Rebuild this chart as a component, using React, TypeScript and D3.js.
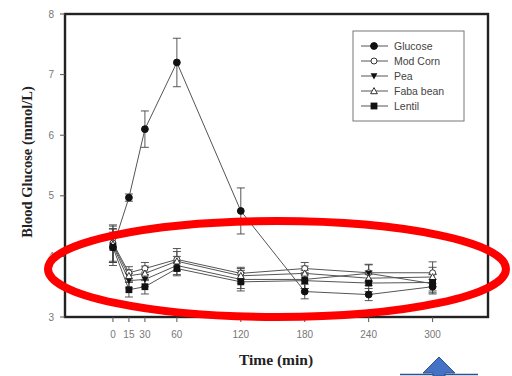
import React from "react";
import * as d3 from "d3";

// Sampling times (min)
const times = [0, 15, 30, 60, 120, 180, 240, 300];
const xTicks = [0, 15, 30, 60, 120, 180, 240, 300];
const yTicks = [3, 4, 5, 6, 7, 8];

// Mean blood glucose (mmol/L) per treatment
const glucose = [4.15, 4.97, 6.1, 7.2, 4.75, 3.42, 3.37, 3.5];
const modCorn = [4.22, 3.73, 3.8, 3.95, 3.72, 3.8, 3.73, 3.73];
const pea = [4.18, 3.6, 3.62, 3.85, 3.62, 3.62, 3.72, 3.55];
const fabaBean = [4.2, 3.68, 3.72, 3.92, 3.68, 3.72, 3.64, 3.66];
const lentil = [4.15, 3.45, 3.5, 3.8, 3.58, 3.6, 3.56, 3.57];

// Standard errors
const glucoseErr = [0.3, 0.06, 0.3, 0.4, 0.38, 0.12, 0.1, 0.12];
const modCornErr = [0.3, 0.1, 0.1, 0.18, 0.1, 0.1, 0.14, 0.18];
const peaErr = [0.28, 0.12, 0.12, 0.15, 0.15, 0.15, 0.14, 0.15];
const fabaBeanErr = [0.3, 0.1, 0.12, 0.16, 0.12, 0.12, 0.12, 0.16];
const lentilErr = [0.25, 0.12, 0.12, 0.12, 0.15, 0.13, 0.14, 0.14];

const seriesNames = ["Glucose", "Mod Corn", "Pea", "Faba bean", "Lentil"];
const seriesValues = [glucose, modCorn, pea, fabaBean, lentil];
const seriesErrs = [glucoseErr, modCornErr, peaErr, fabaBeanErr, lentilErr];
const seriesSymbols = ["circleFilled", "circleOpen", "triDownFilled", "triUpOpen", "squareFilled"];

const W = 512;
const H = 376;

const x = d3.scaleLinear().domain([-45, 352]).range([65, 488]);
const y = d3.scaleLinear().domain([3, 8]).range([317, 14]);

const ink = "#222";
const lineCol = "#555";

function Marker({ kind, cx, cy }: { kind: string; cx: number; cy: number }) {
  const s = 3.4;
  switch (kind) {
    case "circleFilled":
      return <circle cx={cx} cy={cy} r={s} fill="#111" stroke="#111" />;
    case "circleOpen":
      return <circle cx={cx} cy={cy} r={s - 0.4} fill="#fff" stroke="#333" strokeWidth={1} />;
    case "triDownFilled":
      return (
        <path
          d={`M${cx - s},${cy - s * 0.8}L${cx + s},${cy - s * 0.8}L${cx},${cy + s}Z`}
          fill="#111"
        />
      );
    case "triUpOpen":
      return (
        <path
          d={`M${cx - s},${cy + s * 0.8}L${cx + s},${cy + s * 0.8}L${cx},${cy - s}Z`}
          fill="#fff"
          stroke="#333"
          strokeWidth={1}
        />
      );
    default:
      return <rect x={cx - s} y={cy - s} width={s * 2} height={s * 2} fill="#111" />;
  }
}

export default function App() {
  const line = d3
    .line<number>()
    .x((_, i) => x(times[i]))
    .y((d) => y(d));

  const legendX = 353;
  const legendY = 31;
  const legendRow = 15;

  return (
    <svg
      width={W}
      height={H}
      style={{ position: "absolute", left: 0, top: 0, background: "#fff" }}
      fontFamily="Liberation Sans, Arial, sans-serif"
    >
      {/* error bars */}
      {seriesValues.map((vals, si) =>
        vals.map((v, i) => {
          const e = seriesErrs[si][i];
          const cx = x(times[i]);
          return (
            <g key={`e${si}-${i}`} stroke="#444" strokeWidth={0.9}>
              <line x1={cx} x2={cx} y1={y(v + e)} y2={y(v - e)} />
              <line x1={cx - 4} x2={cx + 4} y1={y(v + e)} y2={y(v + e)} />
              <line x1={cx - 4} x2={cx + 4} y1={y(v - e)} y2={y(v - e)} />
            </g>
          );
        })
      )}

      {/* series lines */}
      {seriesValues.map((vals, si) => (
        <path key={`l${si}`} d={line(vals) || ""} fill="none" stroke={lineCol} strokeWidth={1} />
      ))}

      {/* markers */}
      {seriesValues.map((vals, si) =>
        vals.map((v, i) => (
          <Marker key={`m${si}-${i}`} kind={seriesSymbols[si]} cx={x(times[i])} cy={y(v)} />
        ))
      )}

      {/* plot frame */}
      <rect
        x={x.range()[0]}
        y={y.range()[1]}
        width={x.range()[1] - x.range()[0]}
        height={y.range()[0] - y.range()[1]}
        fill="none"
        stroke={ink}
        strokeWidth={2.4}
      />

      {/* y axis ticks */}
      {yTicks.map((t) => (
        <g key={`yt${t}`}>
          <line x1={60} x2={65} y1={y(t)} y2={y(t)} stroke="#555" strokeWidth={1} />
          <text x={54} y={y(t)} dy="0.35em" textAnchor="end" fontSize={10} fill="#777">
            {t}
          </text>
        </g>
      ))}

      {/* x axis ticks */}
      {xTicks.map((t) => (
        <g key={`xt${t}`}>
          <line x1={x(t)} x2={x(t)} y1={317} y2={322} stroke="#555" strokeWidth={1} />
          <text x={x(t)} y={334} dy="0.35em" textAnchor="middle" fontSize={10} fill="#777">
            {t}
          </text>
        </g>
      ))}

      {/* axis titles */}
      <text
        x={276}
        y={365}
        textAnchor="middle"
        fontFamily="Liberation Serif, Times New Roman, serif"
        fontWeight="bold"
        fontSize={15.5}
        fill="#222"
      >
        Time (min)
      </text>
      <text
        transform={`translate(32,162) rotate(-90)`}
        textAnchor="middle"
        fontFamily="Liberation Serif, Times New Roman, serif"
        fontWeight="bold"
        fontSize={14.5}
        fill="#222"
      >
        Blood Glucose (mmol/L)
      </text>

      {/* legend */}
      <rect x={legendX} y={legendY} width={111} height={90} fill="#fff" stroke="#777" strokeWidth={1} />
      {seriesNames.map((name, i) => {
        const ly = legendY + 15 + i * legendRow;
        return (
          <g key={`lg${i}`}>
            <line x1={legendX + 8} x2={legendX + 35} y1={ly} y2={ly} stroke={lineCol} strokeWidth={1} />
            <Marker kind={seriesSymbols[i]} cx={legendX + 21} cy={ly} />
            <text x={legendX + 41} y={ly} dy="0.35em" fontSize={10.5} fill="#444">
              {name}
            </text>
          </g>
        );
      })}

      {/* highlight ellipse */}
      <ellipse cx={277} cy={269} rx={229} ry={48} fill="none" stroke="#f00" strokeWidth={8} />

      {/* pointer arrow */}
      <line x1={400} x2={478} y1={374.5} y2={374.5} stroke="#2F528F" strokeWidth={1.5} />
      <path
        d="M439,357 L455,373 L445,373 L445,376 L433,376 L433,373 L423,373 Z"
        fill="#4472C4"
        stroke="#2F528F"
        strokeWidth={1}
      />
    </svg>
  );
}
